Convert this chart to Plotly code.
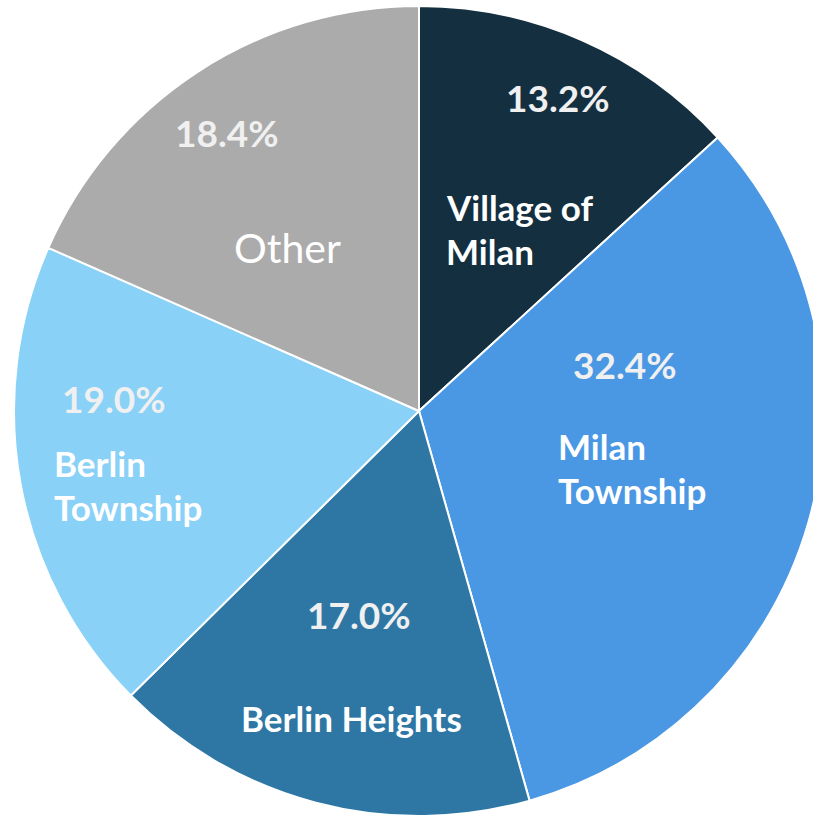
import plotly.graph_objects as go

# Data
categories = ["Village of Milan", "Milan Township", "Berlin Heights", "Berlin Township", "Other"]
values = [13.2, 32.4, 17.0, 19.0, 18.4]
colors = ["#142F40", "#4A97E4", "#2E77A5", "#89D1F7", "#ABABAB"]
pct_labels = [f"{v:.1f}%" for v in values]
name_lines = [["Village of", "Milan"], ["Milan", "Township"], ["Berlin Heights"], ["Berlin", "Township"], ["Other"]]

W, H = 838, 821

fig = go.Figure(go.Pie(
    labels=categories,
    values=values,
    sort=False,
    direction="clockwise",
    rotation=0,
    marker=dict(colors=colors, line=dict(color="white", width=2)),
    textinfo="none",
    hoverinfo="label+percent",
    showlegend=False,
    domain=dict(x=[14 / W, 824 / W], y=[1 - 816 / H, 1 - 6 / H]),
))

# label placement (pixel positions of text centers)
pct_pos = [(558, 98), (625, 365), (359, 614), (114, 398), (227, 132)]
name_pos = [
    [(444, 207, "left"), (444, 251, "left")],
    [(556, 446, "left"), (556, 490, "left")],
    [(351, 718, "center")],
    [(52, 463, "left"), (52, 507, "left")],
    [(287, 248, "center")],
]

annotations = []
for txt, (px, py) in zip(pct_labels, pct_pos):
    annotations.append(dict(
        text=f"<b>{txt}</b>", x=px / W, y=1 - py / H, xref="paper", yref="paper",
        xanchor="center", yanchor="middle", showarrow=False,
        font=dict(family="Lato", size=37, color="#F0F0F0"),
    ))
for i, (lines, poss) in enumerate(zip(name_lines, name_pos)):
    for line, (px, py, anc) in zip(lines, poss):
        is_other = categories[i] == "Other"
        annotations.append(dict(
            text=line if is_other else f"<b>{line}</b>",
            x=px / W, y=1 - py / H, xref="paper", yref="paper",
            xanchor=anc, yanchor="middle", showarrow=False,
            font=dict(family="Lato", size=41 if is_other else 35, color="white"),
        ))

fig.update_layout(
    width=W, height=H,
    margin=dict(l=0, r=0, t=0, b=0),
    paper_bgcolor="white",
    plot_bgcolor="white",
    annotations=annotations,
)

fig.write_html(
    "out.html",
    config={"displayModeBar": False},
    post_script="document.body.style.margin='0';document.body.style.overflow='hidden';",
)
